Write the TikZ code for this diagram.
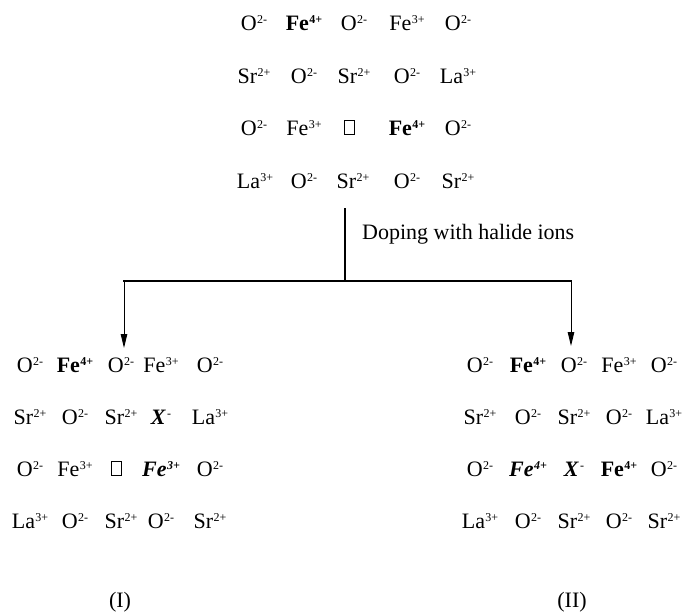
\documentclass[tikz,border=0pt]{standalone}
\usepackage{fontspec}
\setmainfont{Liberation Serif}
\usetikzlibrary{arrows.meta}

% ion with a small raised charge
\newcommand\chg[1]{\kern0.4pt\raisebox{7pt}{\fontsize{12}{12}\selectfont #1}}
\newcommand\ion[2]{#1\chg{#2}}
\newcommand\Ox{\ion{O}{2-}}
\newcommand\Sr{\ion{Sr}{2+}}
\newcommand\La{\ion{La}{3+}}
\newcommand\FeIII{\ion{Fe}{3+}}
\newcommand\FeIV{\ion{Fe}{4+}}
\newcommand\bFeIV{{\bfseries\ion{Fe}{4+}}}
\newcommand\biFeIV{{\bfseries\itshape\ion{Fe}{4+}}}
\newcommand\biFeIII{{\bfseries\itshape\ion{Fe}{3+}}}
\newcommand\biX{{\bfseries\itshape X}\kern1.5pt\raisebox{7pt}{\fontsize{12}{12}\selectfont -}}

\tikzset{
  ionnode/.style={anchor=base, inner sep=0pt, font=\fontsize{22}{22}\selectfont},
  vac/.style={draw, line width=0.5pt, minimum width=10.5pt, minimum height=13.5pt,
              inner sep=0pt, anchor=south},
  trunk/.style={line width=2pt},
  branch/.style={line width=1pt, -{Triangle[length=14pt,width=6.5pt]}},
  caption/.style={anchor=base, inner sep=0pt, font=\fontsize{22}{22}\selectfont}
}

\begin{document}
\begin{tikzpicture}[x=1pt, y=-1pt]
\useasboundingbox (0,0) rectangle (682,614);

% ---- undoped lattice ----
\node[ionnode] (t11) at (254,30) {\Ox};
\node[ionnode] (t12) at (304,30) {\bFeIV};
\node[ionnode] (t13) at (354,30) {\Ox};
\node[ionnode] (t14) at (407,30) {\FeIII};
\node[ionnode] (t15) at (458,30) {\Ox};

\node[ionnode] (t21) at (254,83) {\Sr};
\node[ionnode] (t22) at (304,83) {\Ox};
\node[ionnode] (t23) at (354,83) {\Sr};
\node[ionnode] (t24) at (407,83) {\Ox};
\node[ionnode] (t25) at (458,83) {\La};

\node[ionnode] (t31) at (254,135) {\Ox};
\node[ionnode] (t32) at (304,135) {\FeIII};
\node[vac]     (t33) at (349,134) {};
\node[ionnode] (t34) at (407,135) {\bFeIV};
\node[ionnode] (t35) at (458,135) {\Ox};

\node[ionnode] (t41) at (255,188) {\La};
\node[ionnode] (t42) at (304,188) {\Ox};
\node[ionnode] (t43) at (353,188) {\Sr};
\node[ionnode] (t44) at (407,188) {\Ox};
\node[ionnode] (t45) at (458,188) {\Sr};

% ---- doped lattice (I) ----
\node[ionnode] (l11) at (30,372) {\Ox};
\node[ionnode] (l12) at (75,372) {\bFeIV};
\node[ionnode] (l13) at (121,372) {\Ox};
\node[ionnode] (l14) at (161,372) {\FeIII};
\node[ionnode] (l15) at (210,372) {\Ox};

\node[ionnode] (l21) at (30,424) {\Sr};
\node[ionnode] (l22) at (75,424) {\Ox};
\node[ionnode] (l23) at (121,424) {\Sr};
\node[ionnode] (l24) at (161,424) {\biX};
\node[ionnode] (l25) at (210,424) {\La};

\node[ionnode] (l31) at (30,476) {\Ox};
\node[ionnode] (l32) at (75,476) {\FeIII};
\node[vac]     (l33) at (116,475) {};
\node[ionnode] (l34) at (161,476) {\biFeIII};
\node[ionnode] (l35) at (210,476) {\Ox};

\node[ionnode] (l41) at (30,528) {\La};
\node[ionnode] (l42) at (75,528) {\Ox};
\node[ionnode] (l43) at (121,528) {\Sr};
\node[ionnode] (l44) at (161,528) {\Ox};
\node[ionnode] (l45) at (210,528) {\Sr};

% ---- doped lattice (II) ----
\node[ionnode] (r11) at (480,372) {\Ox};
\node[ionnode] (r12) at (528,372) {\bFeIV};
\node[ionnode] (r13) at (574,372) {\Ox};
\node[ionnode] (r14) at (619,372) {\FeIII};
\node[ionnode] (r15) at (664,372) {\Ox};

\node[ionnode] (r21) at (480,424) {\Sr};
\node[ionnode] (r22) at (528,424) {\Ox};
\node[ionnode] (r23) at (574,424) {\Sr};
\node[ionnode] (r24) at (619,424) {\Ox};
\node[ionnode] (r25) at (664,424) {\La};

\node[ionnode] (r31) at (480,476) {\Ox};
\node[ionnode] (r32) at (528,476) {\biFeIV};
\node[ionnode] (r33) at (574,476) {\biX};
\node[ionnode] (r34) at (619,476) {\bFeIV};
\node[ionnode] (r35) at (664,476) {\Ox};

\node[ionnode] (r41) at (480,528) {\La};
\node[ionnode] (r42) at (528,528) {\Ox};
\node[ionnode] (r43) at (574,528) {\Sr};
\node[ionnode] (r44) at (619,528) {\Ox};
\node[ionnode] (r45) at (664,528) {\Sr};

% ---- branching connector ----
\coordinate (stemtop) at (345,208);
\coordinate (split)   at (345,281);
\coordinate (lbend)   at (124,281);
\coordinate (rbend)   at (571,281);
\coordinate (ltip)    at (124,348);
\coordinate (rtip)    at (571,346);

\draw[trunk] (stemtop) -- (split);
\draw[trunk, line cap=rect] (lbend) -- (rbend);
\draw[branch] (lbend) -- (ltip);
\draw[branch] (rbend) -- (rtip);

\node[caption, anchor=base west] (doping) at (362,239) {Doping with halide ions};

% ---- captions ----
\node[caption] (capI)  at (120,607) {(I)};
\node[caption] (capII) at (572,607) {(II)};
\end{tikzpicture}
\end{document}
